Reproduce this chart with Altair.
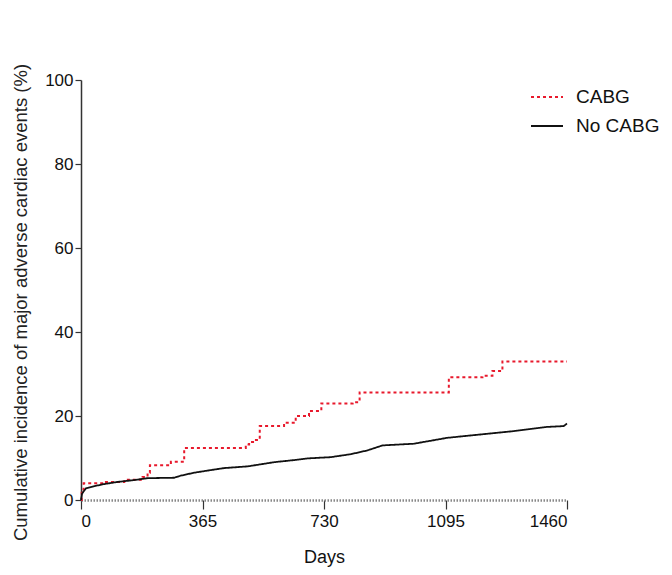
import altair as alt
import pandas as pd

# CABG (red, dotted) cumulative incidence, step curve
cabg_days = [0, 2, 8, 70, 130, 185, 200, 207, 270, 310, 495, 505, 520, 537, 610, 645, 685, 722, 816, 837, 1105, 1206, 1236, 1266, 1460]
cabg_vals = [0, 2.5, 4.0, 4.3, 4.8, 5.5, 6.5, 8.3, 9.1, 12.4, 13.2, 13.8, 14.3, 17.6, 18.4, 20.0, 21.2, 23.0, 23.3, 25.6, 29.2, 29.6, 30.7, 33.0, 33.0]

# No CABG (black, solid)
nocabg_days = [0, 3, 15, 40, 70, 110, 165, 200, 280, 300, 340, 380, 430, 500, 580, 640, 680, 750, 810, 860, 906, 1000, 1100, 1200, 1300, 1400, 1450, 1460]
nocabg_vals = [0, 1.5, 2.8, 3.3, 3.8, 4.3, 4.8, 5.2, 5.3, 5.8, 6.5, 7.0, 7.6, 8.0, 9.0, 9.5, 9.9, 10.2, 10.9, 11.8, 13.0, 13.4, 14.8, 15.6, 16.4, 17.4, 17.6, 18.2]

groups = ["CABG", "No CABG"]
x_ticks = [0, 365, 730, 1095, 1460]
y_ticks = [0, 20, 40, 60, 80, 100]

df_c = pd.DataFrame({"day": cabg_days, "pct": cabg_vals, "group": "CABG"})
df_n = pd.DataFrame({"day": nocabg_days, "pct": nocabg_vals, "group": "No CABG"})

FONT = "Liberation Sans"

legend = alt.Legend(
    title=None, orient="none", legendX=449, legendY=0,
    symbolType="stroke", symbolSize=1024, symbolStrokeWidth=1.8,
    labelFontSize=19, labelFont=FONT, labelColor="#111", labelOffset=12,
    rowPadding=2, padding=0,
)

x_enc = alt.X("day:Q", scale=alt.Scale(domain=[0, 1460], nice=False, zero=False),
              axis=alt.Axis(values=x_ticks, format="d", title="Days", grid=False,
                            domainColor="#888", domainWidth=2.5, domainDash=[1.5, 1.5],
                            tickColor="#333", tickSize=9, tickWidth=1.2,
                            labelFontSize=17, labelFont=FONT, labelColor="#111", labelPadding=4,
                            titleFontSize=18, titleFont=FONT, titleColor="#111", titleFontWeight="normal",
                            titleY=62, titleBaseline="alphabetic"))
y_enc = alt.Y("pct:Q", scale=alt.Scale(domain=[0, 100], nice=False),
              axis=alt.Axis(values=y_ticks, format="d",
                            title="Cumulative incidence of major adverse cardiac events (%)",
                            grid=False, domainColor="#333", domainWidth=1.5,
                            tickColor="#333", tickSize=6, tickWidth=1.2,
                            labelFontSize=17, labelFont=FONT, labelColor="#111", labelPadding=2,
                            titleFontSize=18.5, titleFont=FONT, titleColor="#222", titleFontWeight="normal",
                            titleX=-61, titleY=222, titleBaseline="middle", titleAngle=270))

color_enc = alt.Color("group:N", scale=alt.Scale(domain=groups, range=["#e8192c", "#111111"]), legend=legend)
dash_enc = alt.StrokeDash("group:N", scale=alt.Scale(domain=groups, range=[[3, 3], [1, 0]]), legend=legend)

red = alt.Chart(df_c).mark_line(interpolate="step-after", strokeWidth=2).encode(
    x=x_enc, y=y_enc, color=color_enc, strokeDash=dash_enc)
black = alt.Chart(df_n).mark_line(interpolate="linear", strokeWidth=1.8).encode(
    x="day:Q", y="pct:Q", color=color_enc, strokeDash=dash_enc)

chart = alt.layer(red, black).properties(
    width=486, height=420,
    autosize=alt.AutoSizeParams(type="none"),
    padding={"left": 73, "top": 72, "right": 95, "bottom": 67},
).configure(background="white", view=alt.ViewConfig(stroke=None))

chart.save("out.html", embed_options={"renderer": "svg", "actions": False})
